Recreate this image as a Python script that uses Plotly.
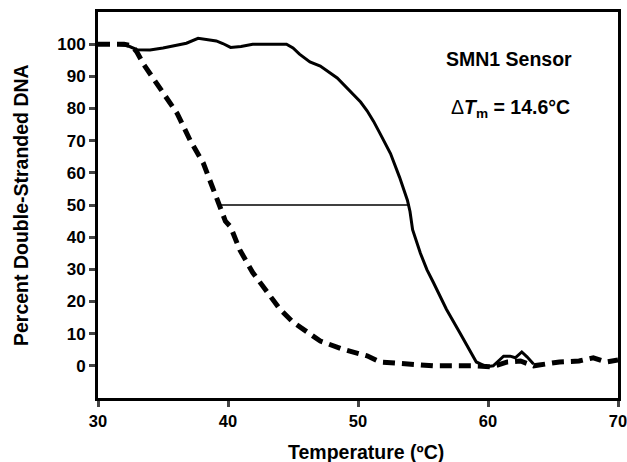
import plotly.graph_objects as go

# Solid curve (SMN1 sensor + target)
solid_x = [31.5, 32.3, 33.0, 34.0, 35.0, 36.0, 36.8, 37.7, 38.5, 39.1, 39.6, 40.2, 41.0, 41.9,
           43.0, 44.5, 45.0, 45.5, 46.3, 47.1, 48.4, 49.4, 50.2, 50.7, 51.2, 51.7, 52.5, 53.2,
           53.8, 54.0, 54.2, 54.8, 55.3, 55.8, 56.8, 57.8, 58.5, 59.1, 59.9, 60.4, 60.8, 61.2,
           61.7, 62.1, 62.6, 63.0, 63.5]
solid_y = [100, 99.5, 98.3, 98.2, 98.8, 99.6, 100.3, 101.8, 101.3, 101, 100.2, 99, 99.3, 100,
           100, 100, 98.8, 96.9, 94.5, 93.2, 89.5, 85.5, 82, 79.3, 76, 72.2, 66, 58.6,
           51.5, 48, 42.3, 35, 29.9, 25.9, 17.6, 10.5, 5.5, 1.2, -0.3, 0, 1.5, 3,
           3, 2.5, 4.3, 2.8, 0.6]

# Dashed curve
dashed_x = [30, 31, 32, 32.6, 33.0, 33.5, 34.8, 36.1, 37.1, 38.1, 38.8, 39.4, 39.8, 40.2, 40.9,
            41.9, 43, 44, 45, 46.1, 47.1, 48.8, 50.7, 51.7, 53.8, 55.8, 58.8, 60.3, 61.5, 62.5,
            63.5, 65.5, 67, 68.1, 69.1, 70]
dashed_y = [100, 100, 100, 99.5, 97.5, 93.8, 86.4, 78.4, 70, 63, 55.6, 49.4, 45, 43.2, 36.1,
            29, 22.8, 17.6, 13.6, 10.5, 7.7, 5.2, 3.1, 1.2, 0.6, 0, 0, -0.3, 1.2, 1.5,
            0, 1.2, 1.5, 2.5, 1.2, 1.8]

# Delta Tm marker line at 50%
tm_x = [39.4, 54.0]
tm_y = [50, 50]

x_ticks = [30, 40, 50, 60, 70]
y_ticks = [0, 10, 20, 30, 40, 50, 60, 70, 80, 90, 100]

FONT = "Liberation Sans, Arial, sans-serif"

fig = go.Figure()
fig.add_trace(go.Scatter(x=dashed_x, y=dashed_y, mode="lines",
                         line=dict(color="black", width=5, dash="12px,7px"),
                         showlegend=False, hoverinfo="skip"))
fig.add_trace(go.Scatter(x=solid_x, y=solid_y, mode="lines",
                         line=dict(color="black", width=3),
                         showlegend=False, hoverinfo="skip"))
fig.add_trace(go.Scatter(x=tm_x, y=tm_y, mode="lines",
                         line=dict(color="black", width=1.3),
                         showlegend=False, hoverinfo="skip"))

fig.update_layout(
    width=627, height=462,
    margin=dict(l=98, r=9, t=12, b=64, autoexpand=False),
    plot_bgcolor="white", paper_bgcolor="white",
    font=dict(family=FONT, color="black"),
    xaxis=dict(range=[30, 70], tickvals=x_ticks, ticks="outside", ticklen=6, tickwidth=3,
               showline=True, linewidth=3, linecolor="black", mirror=True,
               showgrid=False, zeroline=False, automargin=False, ticklabeloverflow="allow",
               tickfont=dict(size=16.5, family=FONT, weight="bold")),
    yaxis=dict(range=[-10, 110], tickvals=y_ticks, ticks="outside", ticklen=6, tickwidth=3,
               showline=True, linewidth=3, linecolor="black", mirror=True,
               showgrid=False, zeroline=False, automargin=False, ticklabeloverflow="allow",
               tickfont=dict(size=17, family=FONT, weight="bold")),
    annotations=[
        dict(text="<b>Temperature (ºC)</b>", xref="paper", yref="paper", x=0.515, y=-0.14,
             xanchor="center", yanchor="middle", showarrow=False, font=dict(size=19.5)),
        dict(text="<b>Percent Double-Stranded DNA</b>", xref="paper", yref="paper",
             x=-0.148, y=0.5, textangle=-90, xanchor="center", yanchor="middle",
             showarrow=False, font=dict(size=19.5)),
        dict(text="<b>SMN1 Sensor</b>", xref="x", yref="y", x=61.6, y=95.4,
             xanchor="center", yanchor="middle", showarrow=False, font=dict(size=19.5)),
        dict(text="Δ<b><i>T</i><sub>m</sub> = 14.6°C</b>", xref="x", yref="y", x=61.7, y=79.9,
             xanchor="center", yanchor="middle", showarrow=False, font=dict(size=19.5)),
    ],
)

fig.write_html("out.html", config={"displayModeBar": False},
               post_script="document.body.style.margin='0';document.body.style.overflow='hidden';")
